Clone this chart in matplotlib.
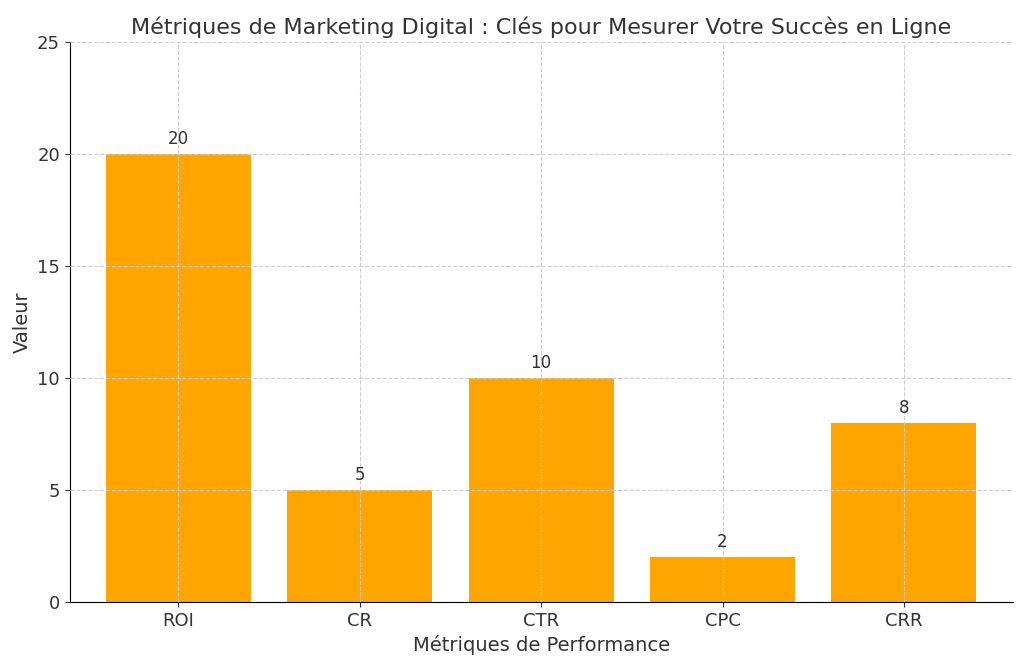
import matplotlib
matplotlib.use("Agg")
import matplotlib.pyplot as plt

categories = ["ROI", "CR", "CTR", "CPC", "CRR"]
values = [20, 5, 10, 2, 8]
yticks = [0, 5, 10, 15, 20, 25]

fig = plt.figure(figsize=(10.24, 6.68), dpi=100)
ax = fig.add_axes([0.068, 0.099, 0.921, 0.838])
bars = ax.bar(categories, values, color="#FFA500", width=0.8, zorder=1)
ax.set_axisbelow(False)
ax.grid(True, linestyle="--", color="#cccccc", linewidth=0.8, zorder=2)
for b, v in zip(bars, values):
    ax.text(b.get_x() + b.get_width() / 2, v + 0.25, str(v), ha="center", va="bottom",
            fontsize=12, color="#333333", zorder=3)
ax.set_ylim(0, 25)
ax.set_yticks(yticks)
ax.set_xlim(-0.6, 4.6)
ax.spines["top"].set_visible(False)
ax.spines["right"].set_visible(False)
ax.tick_params(labelsize=13, colors="#333333")
ax.set_title("Métriques de Marketing Digital : Clés pour Mesurer Votre Succès en Ligne",
             fontsize=16, color="#333333")
ax.set_xlabel("Métriques de Performance", fontsize=14, color="#333333")
ax.set_ylabel("Valeur", fontsize=14, color="#333333")
fig.savefig("out.png", dpi=100)
